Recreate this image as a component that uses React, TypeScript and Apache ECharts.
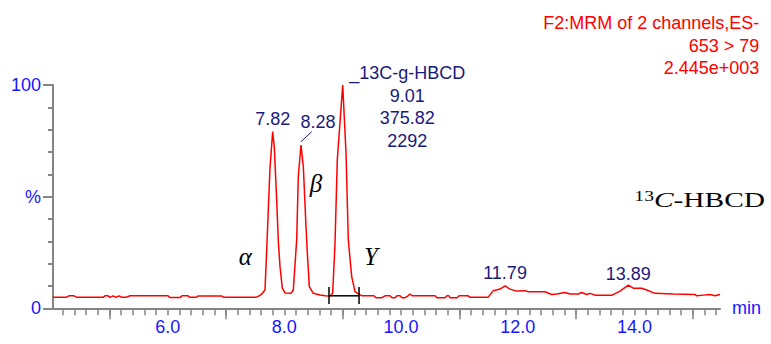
import React, { useEffect, useRef } from 'react';
import * as echarts from 'echarts';

// ---------------- data ----------------
// chromatogram trace: [retention time (min), relative intensity (%)]
const chromatogram: [number, number][] = [
  [4.035, 4.9], [4.258, 4.9], [4.309, 5.6], [4.395, 5.6], [4.446, 4.9], [4.892, 4.9], [4.926, 5.6], [4.978, 5.6],
  [5.012, 4.9], [5.063, 5.6], [5.115, 4.9], [5.166, 5.6], [5.218, 4.9], [5.286, 4.9], [5.355, 5.6], [6.006, 5.6],
  [6.04, 4.8], [6.212, 4.8], [6.246, 5.6], [6.349, 5.6], [6.383, 4.9], [6.486, 4.9], [6.52, 5.5], [6.931, 5.5],
  [6.966, 4.9], [7.514, 4.9], [7.566, 5.6], [7.617, 6.5], [7.668, 8.2],
  [7.697, 26], [7.754, 63], [7.8, 79.1], [7.828, 72], [7.869, 48], [7.897, 29.8], [7.926, 18.5], [7.965, 9],
  [8.011, 6.9], [8.114, 6.7],
  [8.153, 8.2], [8.211, 30.5], [8.239, 59], [8.285, 73.1], [8.325, 63.5], [8.371, 36.5], [8.394, 24.6],
  [8.428, 9.7], [8.496, 6.7], [8.611, 6.0], [8.7, 5.6],
  [8.782, 5.5], [8.828, 6.7], [8.868, 29], [8.907, 66.4], [9.0, 100], [9.057, 69.4], [9.096, 30.5], [9.154, 14.2],
  [9.211, 7.5], [9.297, 6.0],
  [9.33, 5.6], [9.536, 5.6], [9.57, 4.75], [9.673, 4.75], [9.725, 5.6], [9.81, 5.6], [9.845, 4.75], [9.896, 4.75],
  [9.93, 5.6], [9.982, 5.6], [10.016, 4.75], [10.068, 4.75], [10.12, 5.6], [10.153, 6.4], [10.19, 5.6], [10.582, 5.6],
  [10.616, 4.75], [10.753, 4.75], [10.787, 5.6], [10.82, 5.6], [10.84, 4.75], [10.96, 4.75], [10.995, 5.6],
  [11.149, 5.6], [11.183, 4.9], [11.49, 4.9], [11.58, 7.9], [11.696, 8.6], [11.782, 10.0], [11.868, 8.6],
  [11.982, 7.7], [12.124, 7.9], [12.181, 7.4], [12.467, 7.4], [12.582, 6.2], [12.667, 6.4], [12.81, 7.1],
  [12.895, 6.4], [13.038, 6.4], [13.096, 7.1], [13.182, 6.2], [13.238, 6.7], [13.324, 5.9], [13.616, 5.9],
  [13.753, 7.7], [13.895, 10.4], [13.98, 9.0], [14.124, 9.0], [14.21, 8.2], [14.352, 6.7], [14.666, 6.4],
  [15.038, 6.2], [15.067, 5.6], [15.18, 5.9], [15.295, 6.2], [15.38, 5.6], [15.466, 6.2],
];

const peakTimes = [7.8, 8.285, 9.0, 11.782, 13.895];
const peakHeights = [79.1, 73.1, 100, 10.0, 10.4];
const peakTexts = ['7.82', '8.28', '_13C-g-HBCD\n9.01\n375.82\n2292', '11.79', '13.89'];

const isomerTexts = ['α', 'β', 'Y'];
const isomerTimes = [7.33, 8.54, 9.485];
const isomerLevels = [23.4, 56.1, 23.0];

const windowTimes = [8.765, 9.28];
const windowLevel = 5.6;
const windowTickRange = [1.9, 9.5];

const leaderTimes = [8.285, 8.469];
const leaderLevels = [74.6, 79.1];

const xTickLabels = ['6.0', '8.0', '10.0', '12.0', '14.0'];
const yTickValues = [0, 50, 100];
const yTickLabels = ['0', '%', '100'];
const headerLines = ['F2:MRM of 2 channels,ES-', '653 > 79', '2.445e+003'];
const compoundParts = ['13', 'C', '-HBCD'];
const timeUnit = 'min';

// ---------------- layout / style ----------------
const SANS = '"Liberation Sans", Arial, sans-serif';
const SERIF = '"Liberation Serif", "Times New Roman", serif';
const AXIS_GRAY = '#858585';
const AXIS_BLUE = '#1616ff';
const NAVY = '#1a1a7a';
const TRACE_RED = '#ff0000';

const PLOT_LEFT = 53;
const PLOT_RIGHT = 720;
const PLOT_TOP = 85;
const PLOT_BOTTOM = 308.3;
const T_MIN = 4.035;
const T_MAX = 15.466;
const pxAt = (t: number) => PLOT_LEFT + ((t - T_MIN) * (PLOT_RIGHT - PLOT_LEFT)) / (T_MAX - T_MIN);
const gridFor = (a: number, b: number) => ({
  left: pxAt(a),
  width: pxAt(b) - pxAt(a),
  top: PLOT_TOP,
  height: PLOT_BOTTOM - PLOT_TOP,
});

const peakLabelPlacement: any[] = [
  { position: 'top', distance: 3 },
  { position: 'top', distance: 3, offset: [17, -11] },
  { position: [65, -23], align: 'center', verticalAlign: 'top', lineHeight: 22.7 },
  { position: 'top', distance: 3 },
  { position: 'top', distance: 2 },
];

export default function App() {
  const ref = useRef<HTMLDivElement>(null);

  useEffect(() => {
    if (!ref.current) return;
    const chart = echarts.init(ref.current, undefined, { renderer: 'svg' });

    const xOffset = 2;
    const hiddenItem = { color: 'rgba(0,0,0,0)', opacity: 1 };
    const option: any = {
      animation: false,
      backgroundColor: '#ffffff',
      grid: [
        gridFor(T_MIN, T_MAX), // data
        gridFor(4.2, 15.4), // minor ticks + labels
        gridFor(5, 15), // long ticks
      ],
      xAxis: [
        {
          type: 'value', gridIndex: 0, min: T_MIN, max: T_MAX, offset: xOffset,
          axisLine: { show: true, lineStyle: { color: AXIS_GRAY, width: 2 } },
          axisTick: { show: false }, axisLabel: { show: false }, splitLine: { show: false },
          name: timeUnit, nameLocation: 'end', nameGap: 12,
          nameTextStyle: { color: AXIS_BLUE, fontSize: 18, fontFamily: SANS, padding: [5, 0, 0, 0] },
        },
        {
          type: 'value', gridIndex: 1, min: 4.2, max: 15.4, interval: 0.2, offset: xOffset,
          axisLine: { show: false },
          axisTick: { show: true, length: 7, lineStyle: { color: AXIS_GRAY, width: 1.5 } },
          splitLine: { show: false },
          axisLabel: {
            show: true, margin: 8, color: AXIS_BLUE, fontSize: 18, fontFamily: SANS,
            showMinLabel: true, showMaxLabel: true,
            formatter: (v: number) => {
              const hit = xTickLabels.find((s) => Math.abs(parseFloat(s) - v) < 1e-6);
              return hit ?? '';
            },
          },
        },
        {
          type: 'value', gridIndex: 2, min: 5, max: 15, interval: 2, offset: xOffset,
          axisLine: { show: false },
          axisTick: { show: true, length: 11, lineStyle: { color: AXIS_GRAY, width: 1.5 } },
          axisLabel: { show: false }, splitLine: { show: false },
        },
      ],
      yAxis: [
        {
          type: 'value', gridIndex: 0, min: 0, max: 100, interval: 50,
          axisLine: { show: true, lineStyle: { color: AXIS_GRAY, width: 2 } },
          axisTick: { show: true, length: 10, lineStyle: { color: AXIS_GRAY, width: 2 } },
          minorTick: { show: true, splitNumber: 5, length: 5, lineStyle: { color: AXIS_GRAY, width: 2 } },
          splitLine: { show: false },
          axisLabel: {
            margin: 12, color: AXIS_BLUE, fontSize: 18, fontFamily: SANS,
            formatter: (v: number) => {
              const i = yTickValues.findIndex((y) => Math.abs(y - v) < 1e-6);
              return i >= 0 ? yTickLabels[i] : '';
            },
          },
        },
        { type: 'value', gridIndex: 1, min: 0, max: 100, show: false },
        { type: 'value', gridIndex: 2, min: 0, max: 100, show: false },
      ],
      series: [
        {
          type: 'line', xAxisIndex: 0, yAxisIndex: 0, data: chromatogram,
          showSymbol: false, symbol: 'none', silent: true, clip: true,
          lineStyle: { color: TRACE_RED, width: 1.5 },
        },
        {
          type: 'line', xAxisIndex: 0, yAxisIndex: 0, symbol: 'none', silent: true,
          data: windowTimes.map((t) => [t, windowLevel]),
          lineStyle: { color: '#000', width: 1.5 },
        },
        ...windowTimes.map((t) => ({
          type: 'line', xAxisIndex: 0, yAxisIndex: 0, symbol: 'none', silent: true,
          data: windowTickRange.map((v) => [t, v]),
          lineStyle: { color: '#000', width: 1.5 },
        })),
        {
          type: 'line', xAxisIndex: 0, yAxisIndex: 0, symbol: 'none', silent: true,
          data: leaderTimes.map((t, i) => [t, leaderLevels[i]]),
          lineStyle: { color: NAVY, width: 1 },
        },
        {
          type: 'scatter', xAxisIndex: 0, yAxisIndex: 0, symbolSize: 1, silent: true, clip: false,
          itemStyle: hiddenItem,
          data: peakTimes.map((t, i) => ({
            value: [t, peakHeights[i]],
            label: {
              show: true, formatter: peakTexts[i], color: NAVY, opacity: 1, fontSize: 18, fontFamily: SANS,
              ...peakLabelPlacement[i],
            },
          })),
        },
        {
          type: 'scatter', xAxisIndex: 0, yAxisIndex: 0, symbolSize: 1, silent: true, clip: false,
          itemStyle: hiddenItem,
          data: isomerTimes.map((t, i) => ({
            value: [t, isomerLevels[i]],
            label: {
              show: true, position: 'inside', formatter: isomerTexts[i], color: '#000', opacity: 1,
              fontSize: 25, fontStyle: 'italic', fontFamily: SERIF,
            },
          })),
        },
      ],
      graphic: [
        {
          type: 'text', right: 11.7, top: 11.75, silent: true,
          style: {
            text: headerLines.join('\n'), fill: TRACE_RED, fontSize: 18, fontFamily: SANS,
            align: 'right', textAlign: 'right', lineHeight: 22.5,
          },
        },
        {
          type: 'text', x: 765, y: 200, scaleX: 1.4, silent: true,
          style: {
            text: `{a|${compoundParts[0]}}{b|${compoundParts[1]}}{c|${compoundParts[2]}}`,
            fill: '#000', align: 'right', textAlign: 'right',
            verticalAlign: 'middle', textVerticalAlign: 'middle',
            rich: {
              a: { fontSize: 14, fontFamily: SERIF, verticalAlign: 'top', fill: '#000' },
              b: { fontSize: 21, fontFamily: SERIF, fontStyle: 'italic', fill: '#000' },
              c: { fontSize: 21, fontFamily: SERIF, fill: '#000' },
            },
          },
        },
      ],
    };

    chart.setOption(option);
    return () => chart.dispose();
  }, []);

  return (
    <div
      ref={ref}
      style={{ position: 'absolute', left: 0, top: 0, width: 771, height: 344, background: '#fff' }}
    />
  );
}
